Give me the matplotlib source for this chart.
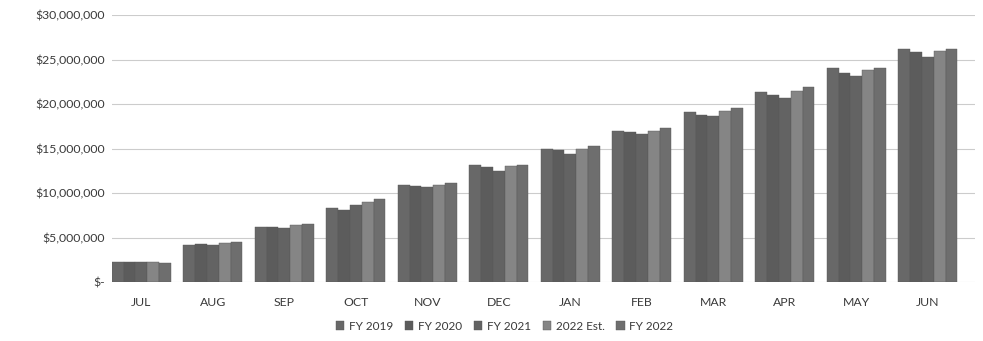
import numpy as np
import matplotlib.pyplot as plt
from matplotlib.ticker import FuncFormatter

# Cumulative monthly totals, in millions of dollars
months = ['JUL', 'AUG', 'SEP', 'OCT', 'NOV', 'DEC', 'JAN', 'FEB', 'MAR', 'APR', 'MAY', 'JUN']
series_names = ['FY 2019', 'FY 2020', 'FY 2021', '2022 Est.', 'FY 2022']
fy2019 = [2.2, 4.2, 6.2, 8.3, 10.9, 13.1, 15.0, 17.0, 19.1, 21.3, 24.0, 26.2]
fy2020 = [2.25, 4.3, 6.2, 8.1, 10.8, 12.9, 14.8, 16.8, 18.8, 21.0, 23.5, 25.8]
fy2021 = [2.2, 4.2, 6.1, 8.7, 10.7, 12.5, 14.4, 16.6, 18.7, 20.7, 23.1, 25.3]
est2022 = [2.2, 4.4, 6.4, 9.0, 10.9, 13.0, 15.0, 17.0, 19.2, 21.5, 23.8, 26.0]
fy2022 = [2.1, 4.5, 6.5, 9.3, 11.1, 13.2, 15.3, 17.3, 19.5, 21.9, 24.1, 26.2]
yticks = [0, 5, 10, 15, 20, 25, 30]

series = [fy2019, fy2020, fy2021, est2022, fy2022]
colors = ['#686868', '#5c5c5c', '#636363', '#858585', '#6e6e6e']

plt.rcParams['font.family'] = ['Lato', 'DejaVu Sans']

fig = plt.figure(figsize=(9.83, 3.41), dpi=100)
fig.patch.set_facecolor('#ffffff')
ax = fig.add_axes([112 / 983, 59 / 341, (975 - 112) / 983, (282 - 15) / 341])

x = np.arange(len(months))
width = 0.165
for i, (vals, name, col) in enumerate(zip(series, series_names, colors)):
    offs = (i - 2) * width
    ax.bar(x + offs, np.array(vals) * 1e6, width, color=col, label=name,
           edgecolor='#585858', linewidth=0.3, zorder=3)

ax.set_xlim(-0.41, 11.66)
ax.set_ylim(0, 30e6)
ax.set_yticks([v * 1e6 for v in yticks])


def money(v, pos):
    if v == 0:
        return '$-'
    return '${:,.0f}'.format(v)


ax.yaxis.set_major_formatter(FuncFormatter(money))
ax.set_xticks(x)
ax.set_xticklabels(months)
ax.tick_params(axis='both', length=0, colors='#3a3a3a', labelsize=8.8)
ax.tick_params(axis='y', pad=5)
ax.tick_params(axis='x', pad=11)
ax.grid(axis='y', color='#cccccc', linewidth=0.8, zorder=0)
for s in ax.spines.values():
    s.set_visible(False)

ax.legend(loc='center', bbox_to_anchor=(0.455, -0.165), ncol=5, frameon=False,
          fontsize=8.5, handlelength=0.7, handleheight=0.7, handletextpad=0.4,
          columnspacing=1.0, labelcolor='#3a3a3a')

fig.savefig('out.png', dpi=100)
